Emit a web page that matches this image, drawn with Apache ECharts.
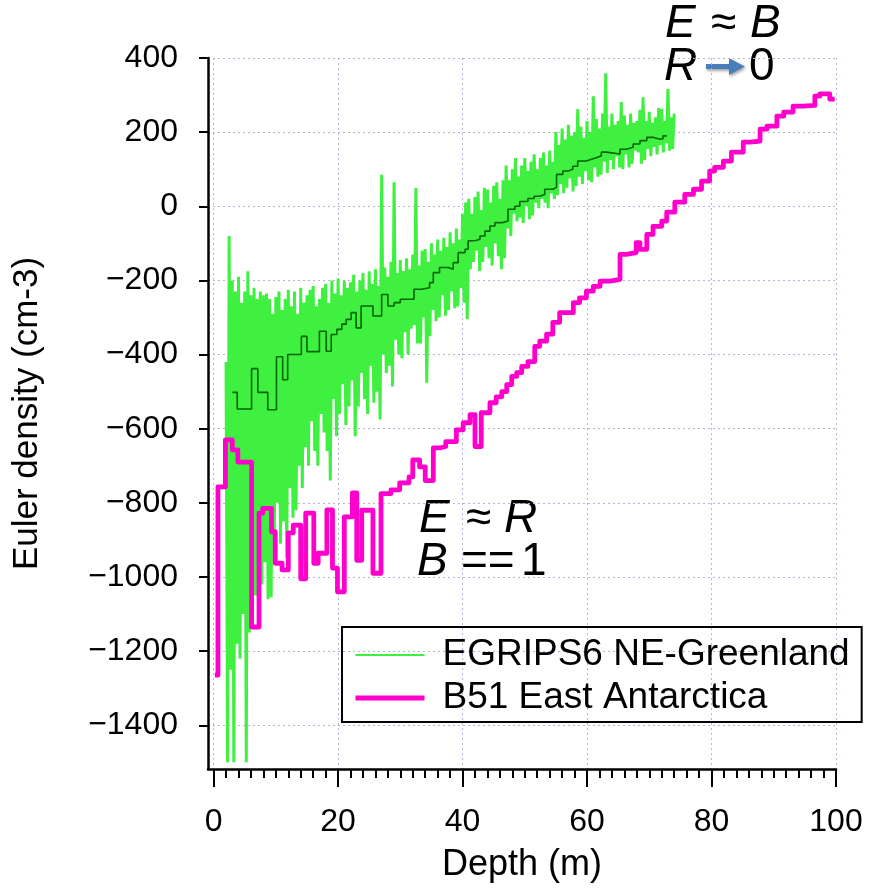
<!DOCTYPE html>
<html>
<head>
<meta charset="utf-8">
<script src="https://cdn.jsdelivr.net/npm/echarts@6/dist/echarts.min.js"></script>
<style>html,body{margin:0;padding:0;background:#fff}#c{width:869px;height:888px}</style>
</head>
<body>
<div id="c"></div>
<script>
const FONT = "'Liberation Sans', Arial, sans-serif";

// ---- tick labels ----
const xTickLabels = [0, 20, 40, 60, 80, 100];
const xMinorTicks = [2,4,6,8,10,12,14,16,18, 22,24,26,28,30,32,34,36,38, 42,44,46,48,50,52,54,56,58,
                     62,64,66,68,70,72,74,76,78, 82,84,86,88,90,92,94,96,98];
const yTickLabels = [-1400, -1200, -1000, -800, -600, -400, -200, 0, 200, 400];

// ---- EGRIPS6 NE-Greenland (raw, sampled every 0.25 m from 2.0 m) ----
const egripsStartDepth = 2.0;
const egripsDepthStep = 0.25;
const egripsValues = [
  -420,-1500,-80,-1250,   -200,-1500,-230,-1180,  -190,-1220,-260,-1100,  -230,-1500,-175,-1150,
  -240,-1080,-220,-1050,  -250,-990,-230,-1020,   -240,-960,-235,-1060,   -250,-1055,-290,-900,
  -245,-800,-230,-910,    -280,-850,-250,-950,    -225,-760,-270,-840,    -230,-820,-290,-700,
  -220,-760,-260,-650,    -240,-700,-225,-580,    -215,-660,-270,-700,    -250,-560,-220,-610,
  -210,-660,-260,-740,    -200,-520,-235,-620,    -195,-560,-240,-480,    -200,-590,-220,-540,
  -205,-470,-185,-620,    -230,-540,-200,-450,    -180,-520,-225,-560,    -175,-430,-210,-530,
  -170,-500,-215,-575,    85,-400,-165,-450,      -190,-430,-150,-486,    65,-360,-180,-400,
  -145,-410,-175,-340,    -140,-400,-170,-330,    -130,-320,49,-370,      -160,-370,-120,-300,
  -115,-476,-150,-350,    -100,-280,-130,-310,    -90,-300,-120,-240,     -85,-295,-110,-280,
  -70,-230,-100,-275,     -60,-270,-90,-220,      -20,-260,10,-305,       20,-170,-20,-150,
  25,-120,40,-175,        -10,-150,50,-110,       45,-140,10,-160,        55,-100,65,-135,
  20,-170,70,-140,        110,-60,70,-80,         100,-20,130,-40,        80,-30,110,-45,
  130,0,95,-35,           120,-25,140,10,         100,-5,130,20,          145,10,110,-5,
  150,35,120,20,          200,30,165,60,          210,35,180,50,          220,75,190,40,
  200,55,262,80,          215,60,185,95,          230,70,200,65,          297,105,235,80,
  210,85,250,120,         359,90,215,125,         250,100,220,135,        230,105,281,100,
  245,140,220,105,        250,115,225,150,        230,145,260,115,        294,125,230,155,
  255,135,225,160,        240,140,265,165,        262,145,230,170,        316,150,240,155,
  250
];

// ---- EGRIPS6 running mean (step) ----
const meanDepth = [3.0,3.8,6.1,7.1,8.7,10.1,11.1,11.9,14.1,15.0,17.0,18.1,18.9,19.8,20.6,21.3,22.1,22.9,23.7,25.6,
  27.0,28.0,29.0,30.0,32.2,33.4,34.7,35.3,36.3,37.7,38.5,39.3,40.4,40.9,42.0,42.8,43.6,44.4,45.2,46.5,
  47.3,48.4,49.2,50.5,51.5,52.4,53.2,54.5,55.1,56.1,57.0,57.7,58.5,59.9,60.7,61.5,62.3,63.1,65.3,66.3,
  67.4,68.5,69.6,70.6,71.7,72.2,72.8];
const meanValues = [-502,-547,-438,-502,-549,-406,-468,-400,-351,-392,-337,-391,-346,-332,-318,-305,-287,-328,-269,-296,
  -238,-269,-260,-251,-224,-220,-206,-179,-165,-170,-152,-125,-116,-93,-89,-80,-67,-53,-44,-40,
  -8,0,13,21,27,32,46,51,86,95,100,108,122,127,131,136,146,141,154,159,
  168,177,186,181,182,190,190];

// ---- B51 East Antarctica (step) ----
const b51Depth = [0.2,0.7,1.9,3.0,3.9,6.1,7.3,7.9,9.3,9.9,11.0,12.0,12.8,14.0,14.8,16.1,16.8,18.2,19.1,19.9,
  21.0,22.3,23.0,23.8,25.6,26.9,28.5,29.9,31.4,32.0,33.1,34.0,35.3,36.3,37.3,39.0,40.1,41.2,42.0,43.0,
  44.4,45.4,46.3,47.1,47.9,48.7,49.5,50.5,51.6,52.4,53.5,54.5,55.6,57.8,58.8,59.9,61.0,62.1,63.7,65.3,
  66.3,67.9,68.5,69.6,70.6,72.0,72.8,74.1,75.7,77.1,78.4,79.7,80.5,81.9,83.2,85.1,86.2,87.8,88.9,90.5,
  91.6,93.1,94.7,96.6,97.4,99.0,99.8];
const b51Values = [-1265,-757,-630,-657,-690,-1135,-828,-815,-878,-963,-981,-881,-860,-1005,-828,-963,-936,-819,-976,-1040,
  -838,-773,-955,-820,-990,-775,-765,-746,-730,-684,-703,-740,-652,-648,-635,-603,-584,-562,-648,-557,
  -530,-514,-500,-481,-459,-449,-432,-419,-378,-364,-345,-313,-287,-260,-247,-229,-216,-202,-197,-130,
  -125,-98,-116,-76,-54,-40,-16,11,32,46,68,95,105,122,146,173,176,208,216,243,
  254,270,272,297,303,289,289];

const egripsData = egripsValues.map((v, i) => [egripsStartDepth + i * egripsDepthStep, v]);
const meanData = meanDepth.map((d, i) => [d, meanValues[i]]);
const b51Data = b51Depth.map((d, i) => [d, b51Values[i]]);

const GREEN = '#40f040', DARKGREEN = '#006600', MAGENTA = '#ff00cc';
const gridLine = { show: true, lineStyle: { color: '#b4b4d4', type: [2, 3], width: 1 } };
const plain = v => String(v).replace('-', '\u2212');
const txt = (t, x, y, italic) => ({
  type: 'text', x: x, y: y, silent: true,
  style: { text: t, fontSize: 46, fontStyle: italic ? 'italic' : 'normal', fontFamily: FONT,
           fill: '#000', verticalAlign: 'middle', align: 'left' }
});
const arrowStyle = { fill: '#4a7ebb', shadowBlur: 3, shadowColor: 'rgba(0,0,0,0.35)', shadowOffsetX: 1, shadowOffsetY: 2 };

const chart = echarts.init(document.getElementById('c'), null, { renderer: 'canvas' });
chart.setOption({
  animation: false,
  backgroundColor: '#fff',
  grid: { left: 208, right: 33, top: 58, bottom: 119, containLabel: false },
  xAxis: [{
    type: 'value', min: -0.9, max: 100,
    axisLine: { show: true, onZero: false, lineStyle: { color: '#000', width: 2.5 } },
    axisTick: { show: true, length: 18, lineStyle: { color: '#000', width: 2 }, customValues: xTickLabels },
    axisLabel: { customValues: xTickLabels, formatter: plain, fontSize: 32, margin: 37, color: '#000', fontFamily: FONT },
    splitLine: gridLine,
    name: 'Depth (m)', nameLocation: 'middle', nameGap: 78,
    nameTextStyle: { fontSize: 36, color: '#000', fontFamily: FONT }
  }, {
    type: 'value', min: -0.9, max: 100, position: 'bottom',
    axisLine: { show: false, onZero: false },
    axisLabel: { show: false },
    splitLine: { show: false },
    axisTick: { show: true, length: 9, lineStyle: { color: '#000', width: 2 }, customValues: xMinorTicks }
  }],
  yAxis: {
    type: 'value', min: -1518, max: 400, splitNumber: 10,
    axisLine: { show: true, onZero: false, lineStyle: { color: '#000', width: 2.5 } },
    axisTick: { show: true, length: 9, lineStyle: { color: '#000', width: 2 }, customValues: yTickLabels },
    axisLabel: { customValues: yTickLabels, formatter: plain, fontSize: 32, margin: 30, color: '#000', fontFamily: FONT },
    splitLine: gridLine,
    name: 'Euler density (cm-3)', nameLocation: 'middle', nameGap: 163,
    nameTextStyle: { fontSize: 35, color: '#000', fontFamily: FONT }
  },
  legend: {
    orient: 'vertical', left: 342, top: 627,
    data: [
      { name: 'EGRIPS6 NE-Greenland', lineStyle: { width: 2 }, itemStyle: { opacity: 0 } },
      { name: 'B51 East Antarctica', lineStyle: { width: 5 }, itemStyle: { opacity: 0 } }
    ],
    borderColor: '#000', borderWidth: 2, borderRadius: 0,
    padding: [8, 12, 4, 11], itemWidth: 69, itemHeight: 14, itemGap: 3,
    textStyle: { fontSize: 37, lineHeight: 40, color: '#000', fontFamily: FONT, padding: [0, 0, 0, 13] },
    selectedMode: false
  },
  series: [
    { name: 'EGRIPS6 NE-Greenland', type: 'line', data: egripsData, symbol: 'none', showSymbol: false,
      lineStyle: { color: GREEN, width: 3 }, itemStyle: { color: GREEN }, z: 2, silent: true },
    { name: 'EGRIPS6 mean', type: 'line', step: 'end', data: meanData, symbol: 'none', showSymbol: false,
      lineStyle: { color: DARKGREEN, width: 1.6 }, itemStyle: { color: DARKGREEN }, z: 3, silent: true },
    { name: 'B51 East Antarctica', type: 'line', step: 'end', data: b51Data, symbol: 'none', showSymbol: false,
      lineStyle: { color: MAGENTA, width: 4.8, join: 'round' }, itemStyle: { color: MAGENTA }, z: 4, silent: true }
  ],
  graphic: [
    txt('E', 665, 24, true), txt('≈', 711, 24, false), txt('B', 750, 24, true),
    txt('R', 664, 67, true),
    { type: 'rect', silent: true, shape: { x: 706, y: 64, width: 24, height: 5 }, style: arrowStyle },
    { type: 'polygon', silent: true, shape: { points: [[729, 58], [745, 66.5], [729, 75]] }, style: arrowStyle },
    txt('0', 749, 67, false),
    txt('E', 419, 519, true), txt('≈', 466, 519, false), txt('R', 504, 519, true),
    txt('B', 417, 562, true), txt('==', 461, 562, false), txt('1', 521, 562, false)
  ]
});
</script>
</body>
</html>
